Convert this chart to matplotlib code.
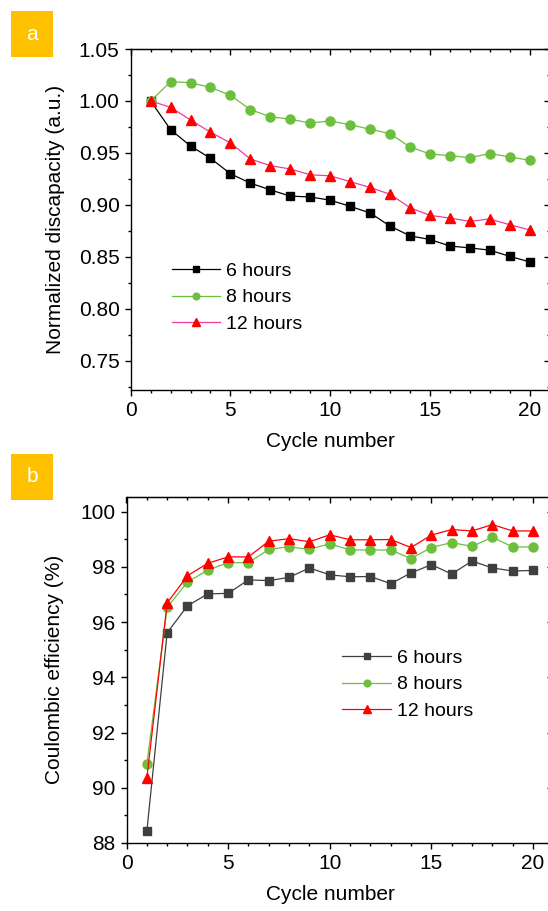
import numpy as np
import matplotlib
matplotlib.use("Agg")
import matplotlib.pyplot as plt
from matplotlib.patches import Rectangle
from matplotlib.ticker import MultipleLocator, FormatStrFormatter

plt.rcParams['font.family'] = ['Liberation Sans', 'DejaVu Sans']

# ---- data ----
cycles = np.arange(1, 21)

# (a) normalized discharge capacity
cap_6h = [1.000, 0.9724, 0.9567, 0.9449, 0.930, 0.9210, 0.9145, 0.9085, 0.9077, 0.9046,
          0.8987, 0.8923, 0.8797, 0.8703, 0.8668, 0.8605, 0.8587, 0.8565, 0.8506, 0.8452]
cap_8h = [1.000, 1.0186, 1.0176, 1.0131, 1.0054, 0.9917, 0.9849, 0.9824, 0.9788, 0.9808,
          0.9772, 0.9728, 0.9686, 0.9558, 0.9490, 0.9474, 0.9455, 0.9494, 0.9462, 0.9430]
cap_12h = [1.000, 0.9939, 0.9817, 0.9700, 0.9596, 0.9442, 0.9378, 0.9346, 0.9290, 0.9280,
           0.9225, 0.9168, 0.9103, 0.8974, 0.8900, 0.8874, 0.8842, 0.8865, 0.8810, 0.8760]

# (b) coulombic efficiency (%)
ce_6h = [88.42, 95.61, 96.59, 97.02, 97.04, 97.53, 97.50, 97.62, 97.96, 97.71,
         97.64, 97.65, 97.39, 97.78, 98.08, 97.74, 98.21, 97.96, 97.85, 97.87]
ce_8h = [90.85, 96.53, 97.45, 97.88, 98.15, 98.15, 98.63, 98.73, 98.63, 98.84,
         98.61, 98.61, 98.61, 98.30, 98.70, 98.88, 98.74, 99.07, 98.72, 98.72]
ce_12h = [90.35, 96.69, 97.68, 98.13, 98.36, 98.36, 98.93, 99.02, 98.91, 99.16,
          98.98, 98.98, 98.99, 98.70, 99.15, 99.35, 99.30, 99.53, 99.30, 99.30]

labels = ['6 hours', '8 hours', '12 hours']

GREEN = '#6cbf3c'
PINK = '#f23ba0'
RED = '#ff0000'
GREY = '#3f3f3f'
BOX = '#ffc000'
FS = 15

W, H = 548, 911
fig = plt.figure(figsize=(W / 100, H / 100), dpi=100)


def px_axes(left, right, top, bottom):
    return fig.add_axes([left / W, (H - bottom) / H, (right - left) / W, (bottom - top) / H])


def style_axes(ax, xmaj, xmin, ymaj, ymin):
    ax.xaxis.set_major_locator(MultipleLocator(xmaj))
    ax.xaxis.set_minor_locator(MultipleLocator(xmin))
    ax.yaxis.set_major_locator(MultipleLocator(ymaj))
    ax.yaxis.set_minor_locator(MultipleLocator(ymin))
    ax.tick_params(which='both', direction='out', width=1.0, labelsize=FS)
    ax.tick_params(which='major', length=4, pad=4)
    ax.tick_params(which='minor', length=2.5)
    for s in ax.spines.values():
        s.set_linewidth(1.0)
    # mirrored inner ticks on top and right
    top = ax.secondary_xaxis('top')
    top.xaxis.set_major_locator(MultipleLocator(xmaj))
    top.xaxis.set_minor_locator(MultipleLocator(xmin))
    top.tick_params(which='both', direction='in', labeltop=False, width=1.0)
    top.tick_params(which='major', length=4)
    top.tick_params(which='minor', length=2.5)
    right = ax.secondary_yaxis('right')
    right.yaxis.set_major_locator(MultipleLocator(ymaj))
    right.yaxis.set_minor_locator(MultipleLocator(ymin))
    right.tick_params(which='both', direction='in', labelright=False, width=1.0)
    right.tick_params(which='major', length=4)
    right.tick_params(which='minor', length=2.5)


def panel_box(letter, x0, y0):
    fig.patches.append(Rectangle((x0 / W, (H - y0 - 46) / H), 42 / W, 46 / H,
                                 transform=fig.transFigure, facecolor=BOX,
                                 edgecolor='none'))
    fig.text((x0 + 21) / W, (H - y0 - 23) / H, letter, color='white', fontsize=15,
             ha='center', va='center')


def add_legend(ax, anchor):
    ax.legend(loc='upper left', bbox_to_anchor=anchor, frameon=False,
              fontsize=14, handlelength=2.5, handletextpad=0.3, labelspacing=0.45,
              borderpad=0, borderaxespad=0, markerscale=0.75)


# ---- panel (a) ----
ax1 = px_axes(130.7, 549.6, 49, 389.5)
ax1.plot(cycles, cap_6h, color='black', lw=0.9, marker='s', ms=5.8, mfc='black',
         mec='black', label=labels[0])
ax1.plot(cycles, cap_8h, color=GREEN, lw=0.9, marker='o', ms=6.5, mfc=GREEN,
         mec=GREEN, label=labels[1])
ax1.plot(cycles, cap_12h, color=PINK, lw=0.9, marker='^', ms=7.5, mfc=RED,
         mec=RED, label=labels[2])
ax1.set_xlim(0, 21)
ax1.set_ylim(0.7225, 1.05)
style_axes(ax1, 5, 1, 0.05, 0.025)
ax1.yaxis.set_major_formatter(FormatStrFormatter('%.2f'))
ax1.set_xlabel('Cycle number', fontsize=FS)
ax1.set_ylabel('Normalized discapacity (a.u.)', fontsize=FS)
ax1.yaxis.set_label_coords(-0.157, 0.5)
ax1.xaxis.set_label_coords(0.478, -0.125)
add_legend(ax1, (0.098, 0.373))
panel_box('a', 11, 11)

# ---- panel (b) ----
ax2 = px_axes(126.5, 553.3, 496.7, 843)
ax2.plot(cycles, ce_6h, color=GREY, lw=0.9, marker='s', ms=5.8, mfc=GREY,
         mec=GREY, label=labels[0])
ax2.plot(cycles, ce_8h, color=GREEN, lw=0.9, marker='o', ms=6.5, mfc=GREEN,
         mec=GREEN, label=labels[1])
ax2.plot(cycles, ce_12h, color=RED, lw=0.9, marker='^', ms=7.5, mfc=RED,
         mec=RED, label=labels[2])
ax2.set_xlim(0, 21)
ax2.set_ylim(88, 100.54)
style_axes(ax2, 5, 1, 2, 1)
ax2.set_xlabel('Cycle number', fontsize=FS)
ax2.set_ylabel('Coulombic efficiency (%)', fontsize=FS)
ax2.yaxis.set_label_coords(-0.146, 0.5)
ax2.xaxis.set_label_coords(0.477, -0.122)
add_legend(ax2, (0.506, 0.559))
panel_box('b', 11, 454)

fig.savefig('out.png', dpi=100)
